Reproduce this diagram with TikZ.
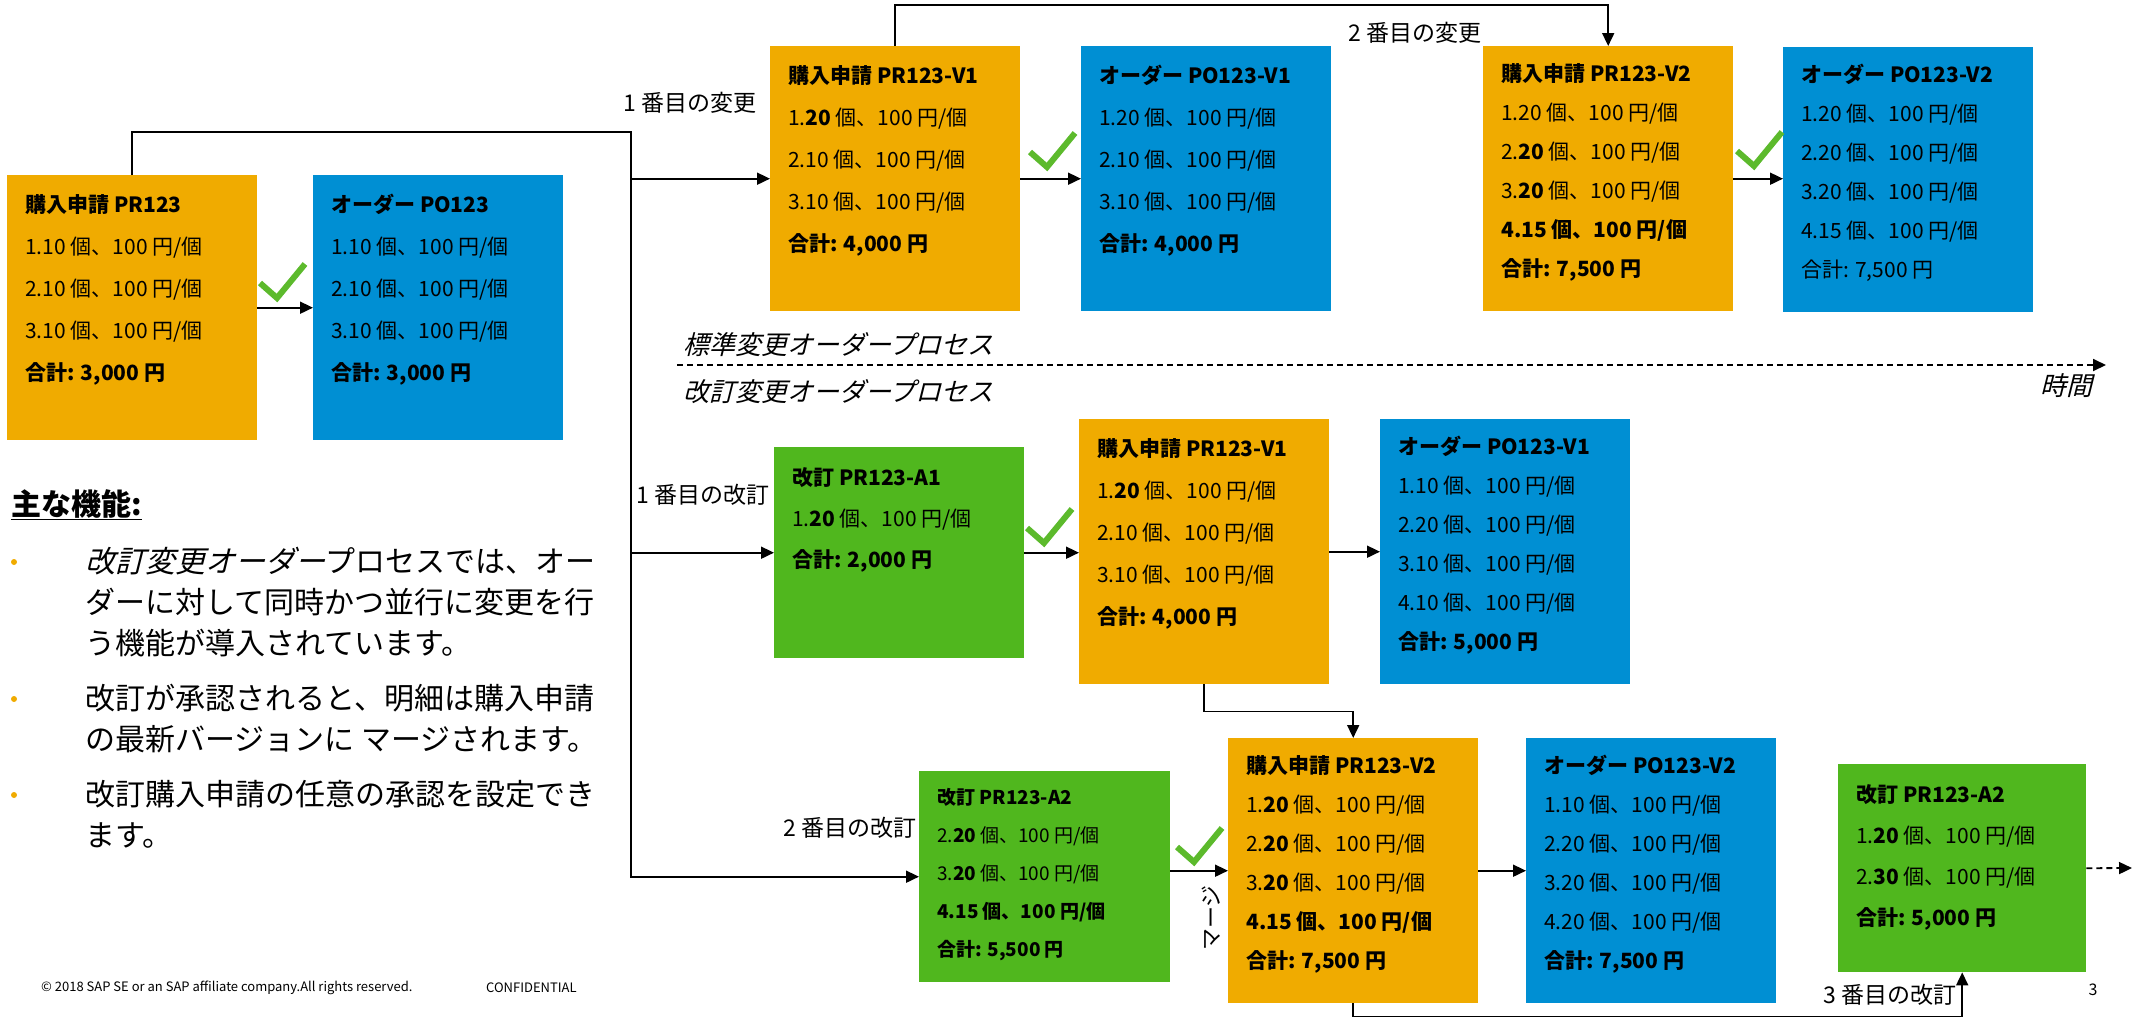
\documentclass[tikz,border=0pt]{standalone}
\usepackage{fontspec}
\setmainfont{Noto Sans CJK JP}[ItalicFont={Noto Sans CJK JP}, ItalicFeatures={FakeSlant=0.25}]
\usepackage{tikz}
\usetikzlibrary{arrows.meta}
\definecolor{prOrange}{RGB}{240,171,0}
\definecolor{poBlue}{RGB}{0,143,211}
\definecolor{amendGreen}{RGB}{80,183,30}
\definecolor{tickGreen}{RGB}{92,186,44}
\tikzstyle{canvas} = [x = 1pt, y = -1pt]
\tikzstyle{docBox} = [anchor = north west, inner sep = 0, draw = none]
\tikzstyle{docTextBase} = [anchor = north west, inner sep = 0, align = left, xshift = 18pt]
\tikzstyle{docText} = [docTextBase, yshift = -19pt, font = \fontsize{21}{42}\selectfont]
\tikzstyle{docTextLong} = [docTextBase, yshift = -17pt, font = \fontsize{21}{39}\selectfont]
\tikzstyle{docTextShort} = [docTextBase, yshift = -20pt, font = \fontsize{21}{41}\selectfont]
\tikzstyle{docTextSmall} = [docTextBase, yshift = -17pt, font = \fontsize{19}{38}\selectfont]
\tikzstyle{flowArrow} = [line width = 1.8pt, -{Triangle[length = 13pt, width = 12pt]}]
\tikzstyle{timeArrow} = [flowArrow, dash pattern = on 6pt off 4pt]
\tikzstyle{tickLine} = [color = tickGreen, line width = 6pt]
\tikzstyle{stepLabel} = [anchor = east, inner sep = 0, font = \fontsize{23}{23}\selectfont]
\tikzstyle{processLabel} = [inner sep = 0, font = \fontsize{26}{26}\selectfont\itshape]
\tikzstyle{featureHead} = [anchor = north west, inner sep = 0, font = \fontsize{30}{30}\selectfont\bfseries]
\tikzstyle{featureText} = [anchor = north west, inner sep = 0, align = left, font = \fontsize{30}{41}\selectfont]
\tikzstyle{bulletDot} = [circle, fill = prOrange, inner sep = 0, minimum size = 6pt]
\tikzstyle{footNote} = [anchor = west, inner sep = 0, font = \fontsize{13}{13}\selectfont]
\newcommand{\docBox}[8]{
  \node [docBox, fill = #6, minimum width = #4, minimum height = #5] (#1) at (#2, #3) {};
  \node [#7] (#1Text) at (#1.north west) {#8};
}
\newcommand{\approvalTick}[2]{\draw [tickLine] (#1 - 17, #2 - 15) -- (#1, #2) -- (#1 + 28, #2 - 34);}

\begin{document}
\begin{tikzpicture}[canvas]
        \useasboundingbox (0, 0) rectangle (2145, 1020);

        \docBox{pr0}{7}{175}{250}{265}{prOrange}{docText}{\textbf{購入申請 PR123}\\1.10 個、100 円/個\\2.10 個、100 円/個\\3.10 個、100 円/個\\\textbf{合計: 3,000 円}}
        \docBox{po0}{313}{175}{250}{265}{poBlue}{docText}{\textbf{オーダー PO123}\\1.10 個、100 円/個\\2.10 個、100 円/個\\3.10 個、100 円/個\\\textbf{合計: 3,000 円}}

        \docBox{pr1}{770}{46}{250}{265}{prOrange}{docText}{\textbf{購入申請 PR123-V1}\\1.\textbf{20} 個、100 円/個\\2.10 個、100 円/個\\3.10 個、100 円/個\\\textbf{合計: 4,000 円}}
        \docBox{po1}{1081}{46}{250}{265}{poBlue}{docText}{\textbf{オーダー PO123-V1}\\1.20 個、100 円/個\\2.10 個、100 円/個\\3.10 個、100 円/個\\\textbf{合計: 4,000 円}}
        \docBox{pr2}{1483}{46}{250}{265}{prOrange}{docTextLong}{\textbf{購入申請 PR123-V2}\\1.20 個、100 円/個\\2.\textbf{20} 個、100 円/個\\3.\textbf{20} 個、100 円/個\\\textbf{4.15 個、100 円/個}\\\textbf{合計: 7,500 円}}
        \docBox{po2}{1783}{47}{250}{265}{poBlue}{docTextLong}{\textbf{オーダー PO123-V2}\\1.20 個、100 円/個\\2.20 個、100 円/個\\3.20 個、100 円/個\\4.15 個、100 円/個\\合計: 7,500 円}

        \docBox{a1}{774}{447}{250}{211}{amendGreen}{docTextShort}{\textbf{改訂 PR123-A1}\\1.\textbf{20} 個、100 円/個\\\textbf{合計: 2,000 円}}
        \docBox{prA1}{1079}{419}{250}{265}{prOrange}{docText}{\textbf{購入申請 PR123-V1}\\1.\textbf{20} 個、100 円/個\\2.10 個、100 円/個\\3.10 個、100 円/個\\\textbf{合計: 4,000 円}}
        \docBox{poA1}{1380}{419}{250}{265}{poBlue}{docTextLong}{\textbf{オーダー PO123-V1}\\1.10 個、100 円/個\\2.20 個、100 円/個\\3.10 個、100 円/個\\4.10 個、100 円/個\\\textbf{合計: 5,000 円}}

        \docBox{a2}{919}{771}{251}{211}{amendGreen}{docTextSmall}{\textbf{改訂 PR123-A2}\\2.\textbf{20} 個、100 円/個\\3.\textbf{20} 個、100 円/個\\\textbf{4.15 個、100 円/個}\\\textbf{合計: 5,500 円}}
        \docBox{prA2}{1228}{738}{250}{265}{prOrange}{docTextLong}{\textbf{購入申請 PR123-V2}\\1.\textbf{20} 個、100 円/個\\2.\textbf{20} 個、100 円/個\\3.\textbf{20} 個、100 円/個\\\textbf{4.15 個、100 円/個}\\\textbf{合計: 7,500 円}}
        \docBox{poA2}{1526}{738}{250}{265}{poBlue}{docTextLong}{\textbf{オーダー PO123-V2}\\1.10 個、100 円/個\\2.20 個、100 円/個\\3.20 個、100 円/個\\4.20 個、100 円/個\\\textbf{合計: 7,500 円}}
        \docBox{a3}{1838}{764}{248}{208}{amendGreen}{docTextShort}{\textbf{改訂 PR123-A2}\\1.\textbf{20} 個、100 円/個\\2.\textbf{30} 個、100 円/個\\\textbf{合計: 5,000 円}}

        \coordinate (changeBus) at (631, 132);
        \draw [flowArrow] (pr0.north) |- (changeBus) |- (a2.west);
        \draw [flowArrow] (changeBus |- pr1.west) -- (pr1.west);
        \draw [flowArrow] (changeBus |- a1.west) -- (a1.west);
        \draw [flowArrow] (pr0.east) -- (po0.west);
        \draw [flowArrow] (pr1.east) -- (po1.west);
        \draw [flowArrow] (pr2.east) -- (pr2.east -| po2.west);
        \draw [flowArrow] (pr1.north) -- ++(0, -41) -| (pr2.north);
        \draw [flowArrow] (a1.east) -- (a1.east -| prA1.west);
        \draw [flowArrow] (prA1.east) -- (poA1.west);
        \draw [flowArrow] (prA1.south) -- ++(0, 27) -| (prA2.north);
        \draw [flowArrow] (a2.east |- prA2.west) -- (prA2.west);
        \draw [flowArrow] (prA2.east) -- (poA2.west);
        \draw [flowArrow] (prA2.south) -- ++(0, 13) -| (a3.south);
        \coordinate (a3Out) at (2132, 868);
        \draw [timeArrow] (a3.east) -- (a3Out);

        \approvalTick{277}{298}
        \approvalTick{1047}{167}
        \approvalTick{1754}{166}
        \approvalTick{1044}{543}
        \approvalTick{1194}{862}

        \node [stepLabel] (firstChange) at (757, 103) {1 番目の変更};
        \node [stepLabel] (secondChange) at (1482, 33) {2 番目の変更};
        \node [stepLabel] (firstAmend) at (770, 495) {1 番目の改訂};
        \node [stepLabel] (secondAmend) at (917, 828) {2 番目の改訂};
        \node [stepLabel] (thirdAmend) at (1957, 995) {3 番目の改訂};
        \node [inner sep = 0, rotate = 90, font = \fontsize{22}{22}\selectfont] (mergeLabel) at (1211, 918) {マージ};

        \coordinate (timeStart) at (677, 365);
        \coordinate (timeEnd) at (2106, 365);
        \draw [timeArrow] (timeStart) -- (timeEnd);
        \node [processLabel, anchor = west] (standardProcess) at (683, 345) {標準変更オーダープロセス};
        \node [processLabel, anchor = west] (amendProcess) at (683, 392) {改訂変更オーダープロセス};
        \node [processLabel, anchor = east] (timeLabel) at (2093, 386) {時間};

        \node [featureHead] (featureHead) at (11, 489) {\underline{主な機能:}};
        \node [bulletDot] (dot1) at (14, 562) {};
        \node [featureText] (feature1) at (85, 547) {\textit{改訂変更オーダー}プロセスでは、オー\\ダーに対して同時かつ並行に変更を行\\う機能が導入されています。};
        \node [bulletDot] (dot2) at (14, 699) {};
        \node [featureText] (feature2) at (85, 684) {改訂が承認されると、明細は購入申請\\の最新バージョンに マージされます。};
        \node [bulletDot] (dot3) at (14, 795) {};
        \node [featureText] (feature3) at (85, 780) {改訂購入申請の任意の承認を設定でき\\ます。};

        \node [footNote] (copyright) at (41, 988) {© 2018 SAP SE or an SAP affiliate company.All rights reserved.};
        \node [footNote] (confidential) at (486, 988) {CONFIDENTIAL};
        \node [inner sep = 0, font = \fontsize{16}{16}\selectfont] (pageNo) at (2093, 990) {3};
      \end{tikzpicture}
\end{document}
